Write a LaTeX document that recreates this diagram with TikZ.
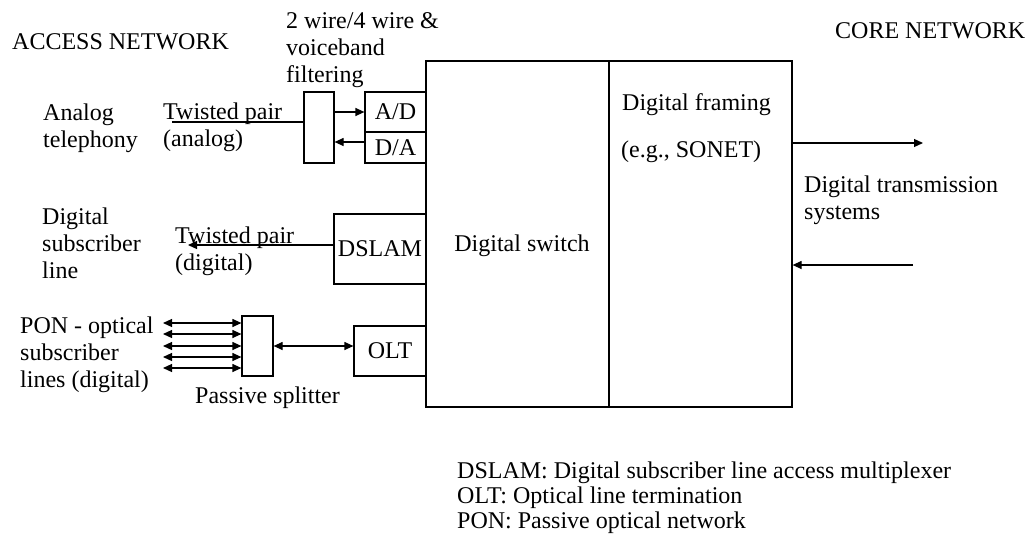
\documentclass[tikz,border=0pt]{standalone}
\usepackage{fontspec}
\setmainfont{Liberation Serif}
\usetikzlibrary{arrows.meta}
\begin{document}
\begin{tikzpicture}[x=1pt,y=-1pt,
  every node/.style={font=\fontsize{24}{27}\selectfont, inner sep=0pt},
  box/.style={draw, line width=1.2pt, inner sep=0pt},
  lbl/.style={anchor=base west, align=left},
  legend/.style={anchor=base west, align=left, font=\fontsize{24}{25}\selectfont},
  conn/.style={line width=1.2pt},
  tip/.style={-{Triangle[length=9pt,width=8pt]}},
  tips/.style={{Triangle[length=9pt,width=8pt]}-{Triangle[length=9pt,width=8pt]}}]
\useasboundingbox (0,0) rectangle (1030,544);

% boxes
\node[box, minimum width=183pt, minimum height=346pt] (sw) at (517.5,234) {};
\node[box, minimum width=183pt, minimum height=346pt] (fr) at (700.5,234) {};
\node[box, minimum width=61pt, minimum height=40pt] (ad) at (395.5,112) {A/D};
\node[box, minimum width=61pt, minimum height=31pt] (da) at (395.5,147.5) {D/A};
\node[box, minimum width=30pt, minimum height=71pt] (filt) at (319,127.5) {};
\node[box, minimum width=92pt, minimum height=70pt] (dslam) at (380,249) {DSLAM};
\node[box, minimum width=72pt, minimum height=50pt] (olt) at (390,351) {OLT};
\node[box, minimum width=31pt, minimum height=60pt] (spl) at (257.5,346) {};

% texts (multi-line nodes anchored at the baseline of their last line)
\node[lbl] (access) at (12,49) {ACCESS NETWORK};
\node[lbl] (core) at (835,38) {CORE NETWORK};
\node[lbl] (wire) at (286,82) {2 wire/4 wire \&\\voiceband\\filtering};
\node[lbl] (analog) at (43,147) {Analog\\telephony};
\node[lbl] (tpa) at (163,146) {Twisted pair\\(analog)};
\node[lbl] (dsl) at (42,278) {Digital\\subscriber\\line};
\node[lbl] (tpd) at (175,270) {Twisted pair\\(digital)};
\node[lbl] (pon) at (20,387) {PON - optical\\subscriber\\lines (digital)};
\node[lbl] (pspl) at (195,403) {Passive splitter};
\node[anchor=base] (swl) at (522,251) {Digital switch};
\node[lbl] (dfr) at (622,110) {Digital framing};
\node[lbl] (son) at (621,157) {(e.g., SONET)};
\node[lbl] (dts) at (804,219) {Digital transmission\\systems};
\node[legend] (leg) at (457,528) {DSLAM: Digital subscriber line access multiplexer\\OLT: Optical line termination\\PON: Passive optical network};

% connectors
\coordinate (tpaend) at (172,122);
\draw[conn] (tpaend) -- (tpaend -| filt.west);
\draw[conn,tip] (filt.east |- ad.west) -- (ad.west);
\draw[conn,tip] ([yshift=5.5pt]da.west) -- ([yshift=5.5pt]da.west -| filt.east);
\coordinate (dslend) at (188,245);
\draw[conn,tip] (dslend -| dslam.west) -- (dslend);
\draw[conn,tips] (spl.east) -- (spl.east -| olt.west);
\foreach \i/\y in {1/323,2/334,3/346,4/357,5/368}{
  \coordinate (p\i) at (163,\y);
  \draw[conn,tips] (p\i) -- (p\i -| spl.west);
}
\coordinate (outend) at (923,143);
\draw[conn,tip] (outend -| fr.east) -- (outend);
\coordinate (inend) at (913,265);
\draw[conn,tip] (inend) -- (inend -| fr.east);
\end{tikzpicture}
\end{document}
